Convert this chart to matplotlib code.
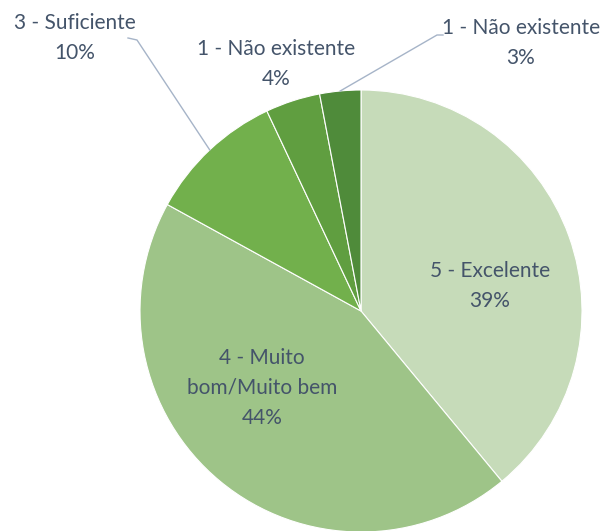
import matplotlib
matplotlib.use('Agg')
import matplotlib.pyplot as plt
import numpy as np

# Data (clockwise from 12 o'clock)
labels = ['5 - Excelente', '4 - Muito\nbom/Muito bem', '3 - Suficiente',
          '1 - Não existente', '1 - Não existente']
values = [39, 44, 10, 4, 3]
colors = ['#c6dbb9', '#9ec488', '#72b04c', '#609e40', '#4f8b3a']

W, H = 612, 531
fig = plt.figure(figsize=(W / 100, H / 100), dpi=100)
ax = fig.add_axes([0, 0, 1, 1])
ax.set_xlim(0, W)
ax.set_ylim(0, H)
ax.set_aspect('equal')
ax.axis('off')

cx, cy, r = 361, H - 311, 221
wedges, _ = ax.pie(values, colors=colors, startangle=90, counterclock=False,
                   center=(cx, cy), radius=r,
                   wedgeprops=dict(edgecolor='white', linewidth=0.8))
ax.set_xlim(0, W)
ax.set_ylim(0, H)

txt_color = '#44546a'
font = 'Lato'
fs = 15

# label anchor positions (pixel coords from top)
label_pos = [(490, 286), (262, 388), (75, 38), (276, 64), (521, 43)]
for w, lab, v, (px, py) in zip(wedges, labels, values, label_pos):
    ax.text(px, H - py, f'{lab}\n{v}%', ha='center', va='center',
            color=txt_color, fontsize=fs, family=font, linespacing=1.65)

# leader lines for the small outside labels
def edge_point(w):
    ang = np.deg2rad((w.theta1 + w.theta2) / 2)
    return cx + r * np.cos(ang), cy + r * np.sin(ang)

ex, ey = edge_point(wedges[2])
ax.plot([128, 137, ex], [H - 38, H - 40, ey], color='#a6b4c8', lw=1)
ex, ey = edge_point(wedges[4])
ax.plot([443, 437, ex], [H - 35, H - 35, ey], color='#a6b4c8', lw=1)

fig.savefig('out.png', dpi=100)
